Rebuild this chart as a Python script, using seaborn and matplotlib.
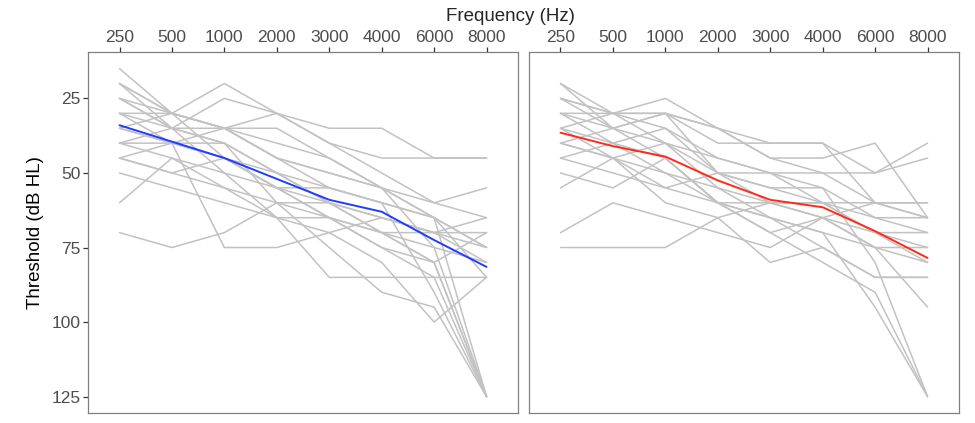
import numpy as np
import pandas as pd
import matplotlib
matplotlib.use("Agg")
import matplotlib.pyplot as plt
import seaborn as sns

# Data
freqs = ["250", "500", "1000", "2000", "3000", "4000", "6000", "8000"]

# individual audiograms, left panel
left_lines = [
    [15, 30, 35, 45, 55, 60, 90, 125],
    [20, 30, 35, 35, 45, 55, 65, 125],
    [20, 35, 40, 50, 60, 70, 80, 125],
    [25, 30, 20, 30, 40, 45, 45, 45],
    [25, 35, 25, 30, 35, 35, 45, 45],
    [30, 30, 35, 30, 40, 50, 60, 55],
    [30, 35, 35, 40, 45, 55, 65, 75],
    [35, 40, 45, 55, 65, 75, 80, 70],
    [35, 30, 35, 45, 50, 55, 60, 65],
    [40, 40, 40, 50, 55, 60, 65, 85],
    [40, 35, 50, 65, 65, 70, 75, 80],
    [45, 40, 35, 45, 50, 55, 75, 125],
    [45, 50, 55, 60, 65, 75, 85, 125],
    [50, 55, 60, 65, 70, 80, 100, 85],
    [60, 45, 55, 65, 85, 85, 85, 85],
    [70, 75, 70, 60, 60, 65, 70, 75],
    [35, 40, 75, 75, 70, 65, 70, 65],
    [45, 50, 45, 55, 60, 65, 70, 70],
    [30, 40, 45, 50, 60, 70, 80, 125],
    [25, 35, 40, 60, 75, 90, 95, 125],
    [40, 45, 50, 55, 55, 60, 65, 75],
    [20, 30, 45, 55, 65, 70, 70, 80],
]

# individual audiograms, right panel
right_lines = [
    [20, 30, 30, 35, 45, 45, 40, 65],
    [20, 35, 45, 60, 65, 70, 95, 125],
    [25, 30, 25, 35, 40, 40, 50, 40],
    [25, 35, 40, 45, 50, 55, 80, 125],
    [30, 30, 30, 35, 45, 50, 50, 45],
    [30, 35, 30, 40, 40, 40, 60, 65],
    [35, 30, 40, 50, 60, 65, 60, 60],
    [35, 40, 35, 45, 50, 60, 70, 70],
    [40, 45, 55, 60, 65, 70, 75, 80],
    [40, 35, 30, 50, 55, 55, 65, 65],
    [45, 50, 55, 50, 50, 50, 60, 65],
    [45, 40, 45, 60, 70, 80, 90, 125],
    [50, 55, 45, 60, 60, 60, 60, 60],
    [55, 45, 40, 55, 65, 75, 85, 85],
    [70, 60, 65, 70, 75, 65, 75, 75],
    [75, 75, 75, 65, 60, 65, 75, 95],
    [30, 40, 50, 60, 70, 65, 70, 75],
    [40, 45, 60, 65, 80, 75, 85, 85],
    [35, 45, 50, 55, 60, 60, 65, 70],
    [25, 30, 35, 50, 55, 60, 70, 80],
]

# mean curves
left_mean = [34, 39.5, 45, 52, 59, 63, 72.5, 81.5]
right_mean = [36.5, 41, 44.5, 52.5, 59, 61.5, 69.5, 78.5]


def to_long(lines):
    rows = []
    for i, ln in enumerate(lines):
        for j, v in enumerate(ln):
            rows.append({"id": i, "pos": j, "thr": v})
    return pd.DataFrame(rows)


sns.set_style("white")
plt.rcParams["font.family"] = ["Liberation Sans", "DejaVu Sans"]

fig = plt.figure(figsize=(9.75, 4.23), dpi=100)
ax1 = fig.add_axes([0.0903, 0.0236, 0.441, 0.853])
ax2 = fig.add_axes([0.5426, 0.0236, 0.441, 0.853])

panels = [(ax1, left_lines, left_mean, "#1f3cff"), (ax2, right_lines, right_mean, "#ff2a1a")]
for ax, lines, mean, col in panels:
    df = to_long(lines)
    sns.lineplot(data=df, x="pos", y="thr", units="id", estimator=None,
                 color="#c2c2c2", linewidth=1.1, ax=ax)
    mdf = pd.DataFrame({"pos": range(len(freqs)), "thr": mean})
    sns.lineplot(data=mdf, x="pos", y="thr", color=col, linewidth=1.4, ax=ax)

    ax.set_xlim(-0.6, 7.6)
    ax.set_ylim(130.5, 9.5)
    ax.set_xticks(range(len(freqs)))
    ax.set_xticklabels(freqs)
    ax.xaxis.tick_top()
    ax.tick_params(axis="both", length=3.5, width=0.9, color="#333333",
                   labelcolor="#4d4d4d", labelsize=12.5, pad=2, direction="out",
                   top=True, bottom=False, left=True)
    ax.set_xlabel("")
    ax.set_ylabel("")
    for s in ax.spines.values():
        s.set_color("#808080")
        s.set_linewidth(0.9)

ax1.set_yticks([25, 50, 75, 100, 125])
ax2.set_yticks([])
ax1.set_ylabel("Threshold (dB HL)", fontsize=13.5, color="black", labelpad=5)
fig.text(0.524, 0.962, "Frequency (Hz)", ha="center", va="center", fontsize=13.5)

fig.savefig("out.png", dpi=100)
